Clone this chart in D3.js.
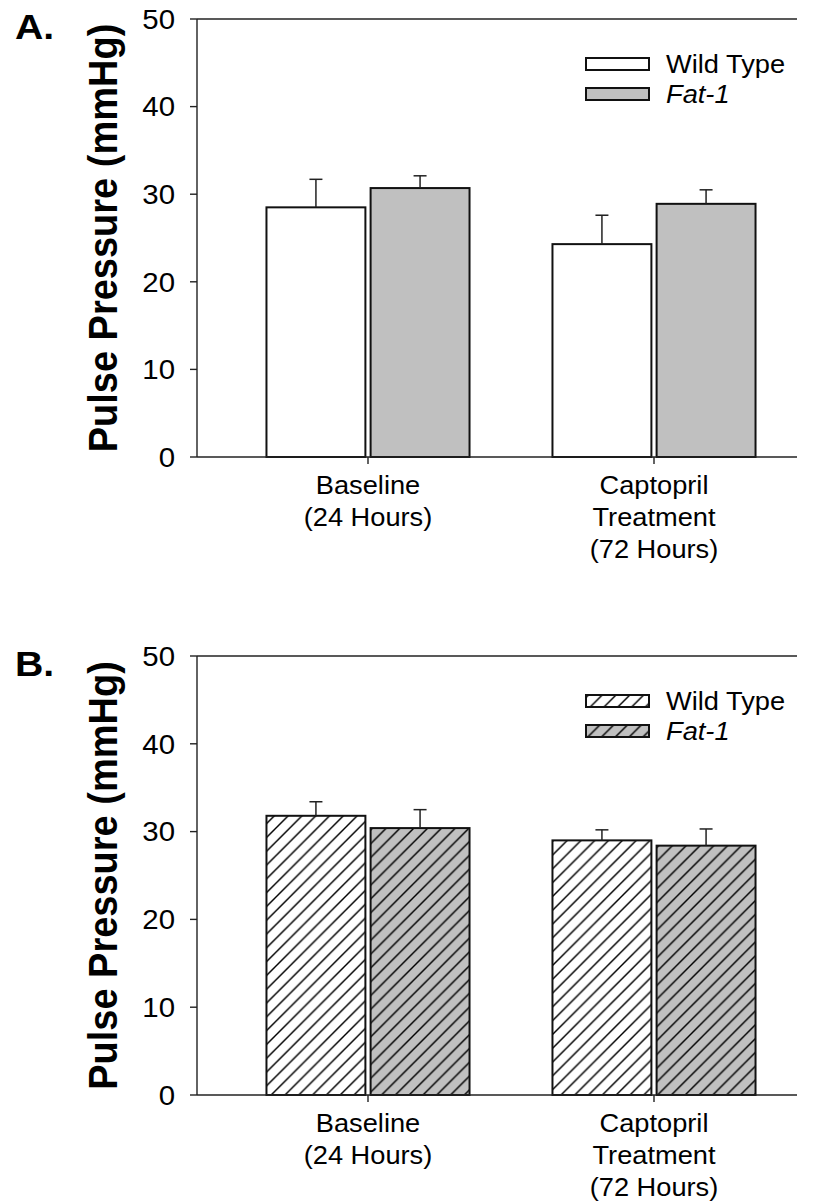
<!DOCTYPE html>
<html>
<head>
<meta charset="utf-8">
<script src="https://cdn.jsdelivr.net/npm/d3@7"></script>
<style>
  html, body { margin: 0; padding: 0; background: #fff; }
  svg { display: block; }
  text { font-family: "Liberation Sans", Arial, Helvetica, sans-serif; fill: #000; }
</style>
</head>
<body>
<svg id="chart" width="817" height="1202"></svg>
<script>
// ---- data ----
const categories = ["Baseline", "Captopril"];
const categoryLines = [["Baseline", "(24 Hours)"], ["Captopril", "Treatment", "(72 Hours)"]];
const seriesNames = ["Wild Type", "Fat-1"];
const yTicks = [0, 10, 20, 30, 40, 50];

const panelA_WT = [28.5, 24.3];
const panelA_WT_err = [3.2, 3.3];
const panelA_Fat1 = [30.7, 28.9];
const panelA_Fat1_err = [1.4, 1.6];

const panelB_WT = [31.8, 29.0];
const panelB_WT_err = [1.6, 1.2];
const panelB_Fat1 = [30.4, 28.4];
const panelB_Fat1_err = [2.1, 1.9];

// ---- layout ----
const svg = d3.select("#chart");
const SX = 1.09; // horizontal glyph stretch
const left = 197, right = 797;

const defs = svg.append("defs");
function hatch(id, bg) {
  const p = defs.append("pattern").attr("id", id).attr("patternUnits", "userSpaceOnUse")
    .attr("width", 13.8).attr("height", 13.8);
  p.append("rect").attr("width", 13.8).attr("height", 13.8).attr("fill", bg);
  p.append("path").attr("d", "M-2,2 L2,-2 M0,13.8 L13.8,0 M11.8,15.8 L15.8,11.8")
    .attr("stroke", "#000").attr("stroke-width", 1.4);
}
hatch("hatchWhite", "#ffffff");
hatch("hatchGray", "#c0c0c0");

function drawPanel(cfg) {
  const g = svg.append("g");
  const y = d3.scaleLinear().domain([0, 50]).range([cfg.bottom, cfg.top]);
  const x0 = d3.scaleBand().domain(categories).range([225, 797]);
  const groupHalf = x0.bandwidth() * 0.355;
  const x1 = d3.scaleBand().domain(seriesNames).range([-groupHalf, groupHalf]).paddingInner(0.05);

  const series = [
    { name: seriesNames[0], vals: cfg.wt, errs: cfg.wtErr, fill: cfg.fills[0] },
    { name: seriesNames[1], vals: cfg.fat, errs: cfg.fatErr, fill: cfg.fills[1] }
  ];

  // top frame line
  g.append("line").attr("x1", left).attr("x2", right).attr("y1", y(50)).attr("y2", y(50))
    .attr("stroke", "#222").attr("stroke-width", 1.4);

  // bars
  series.forEach(s => {
    categories.forEach((c, i) => {
      const bx = x0(c) + x0.bandwidth() / 2 + x1(s.name);
      g.append("rect")
        .attr("x", bx).attr("y", y(s.vals[i]))
        .attr("width", x1.bandwidth()).attr("height", y(0) - y(s.vals[i]))
        .attr("fill", s.fill).attr("stroke", "#111").attr("stroke-width", 2);
      const cx = bx + x1.bandwidth() / 2;
      g.append("line").attr("x1", cx).attr("x2", cx)
        .attr("y1", y(s.vals[i])).attr("y2", y(s.vals[i] + s.errs[i]))
        .attr("stroke", "#222").attr("stroke-width", 1.5);
      g.append("line").attr("x1", cx - 6.5).attr("x2", cx + 6.5)
        .attr("y1", y(s.vals[i] + s.errs[i])).attr("y2", y(s.vals[i] + s.errs[i]))
        .attr("stroke", "#222").attr("stroke-width", 1.5);
    });
  });

  // y axis
  g.append("line").attr("x1", left).attr("x2", left).attr("y1", y(0)).attr("y2", y(50))
    .attr("stroke", "#222").attr("stroke-width", 1.4);
  yTicks.forEach(t => {
    g.append("line").attr("x1", left - 7).attr("x2", left).attr("y1", y(t)).attr("y2", y(t))
      .attr("stroke", "#222").attr("stroke-width", 1.4);
    g.append("text").attr("text-anchor", "end").attr("font-size", 27)
      .attr("transform", `translate(${left - 22},${y(t) + 9.8}) scale(${SX},1)`)
      .text(t);
  });

  // x axis
  g.append("line").attr("x1", left).attr("x2", right).attr("y1", y(0)).attr("y2", y(0))
    .attr("stroke", "#222").attr("stroke-width", 1.4);
  categories.forEach((c, i) => {
    const cx = x0(c) + x0.bandwidth() / 2;
    g.append("line").attr("x1", cx).attr("x2", cx).attr("y1", y(0)).attr("y2", y(0) + 7)
      .attr("stroke", "#222").attr("stroke-width", 1.4);
    categoryLines[i].forEach((ln, k) => {
      g.append("text").attr("text-anchor", "middle").attr("font-size", 25)
        .attr("transform", `translate(${cx},${y(0) + 37 + k * 32}) scale(${SX},1)`)
        .text(ln);
    });
  });

  // y label
  g.append("text").attr("text-anchor", "middle").attr("font-size", 38).attr("font-weight", "bold")
    .attr("transform", `translate(117,${(y(0) + y(50)) / 2}) scale(${SX},1) rotate(-90)`)
    .text("Pulse Pressure (mmHg)");

  // panel letter
  g.append("text").attr("font-size", 36).attr("font-weight", "bold")
    .attr("transform", `translate(15,${y(50) + 20}) scale(${SX},1)`)
    .text(cfg.letter);

  // legend
  series.forEach((s, k) => {
    const ly = y(50) + 39 + k * 30;
    g.append("rect").attr("x", 586).attr("y", ly).attr("width", 63).attr("height", 12)
      .attr("fill", s.fill).attr("stroke", "#111").attr("stroke-width", 2);
    g.append("text").attr("font-size", 25)
      .attr("font-style", k === 1 ? "italic" : "normal")
      .attr("transform", `translate(666,${ly + 15}) scale(${SX},1)`)
      .text(s.name);
  });
}

drawPanel({ letter: "A.", top: 19, bottom: 457, wt: panelA_WT, wtErr: panelA_WT_err,
  fat: panelA_Fat1, fatErr: panelA_Fat1_err, fills: ["#ffffff", "#c0c0c0"] });
drawPanel({ letter: "B.", top: 656, bottom: 1095, wt: panelB_WT, wtErr: panelB_WT_err,
  fat: panelB_Fat1, fatErr: panelB_Fat1_err, fills: ["url(#hatchWhite)", "url(#hatchGray)"] });
</script>
</body>
</html>
